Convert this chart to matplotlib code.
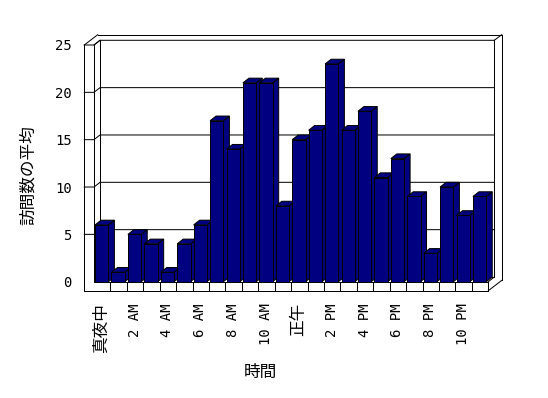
import matplotlib
matplotlib.use("Agg")
import matplotlib.pyplot as plt
from matplotlib.patches import Polygon

# hourly averages
hours = ["真夜中", "1 AM", "2 AM", "3 AM", "4 AM", "5 AM", "6 AM", "7 AM",
         "8 AM", "9 AM", "10 AM", "11 AM", "正午", "1 PM", "2 PM", "3 PM",
         "4 PM", "5 PM", "6 PM", "7 PM", "8 PM", "9 PM", "10 PM", "11 PM"]
visits = [6, 1, 5, 4, 1, 4, 6, 17, 14, 21, 21, 8,
          15, 16, 23, 16, 18, 11, 13, 9, 3, 10, 7, 9]
yticks = [0, 5, 10, 15, 20, 25]

W, H = 548, 398
NAVY = "#000080"
LW = 0.72  # one pixel

fig = plt.figure(figsize=(W / 100, H / 100), dpi=100)

# frame of the fake 3D box, in pixel coordinates
bg = fig.add_axes([0, 0, 1, 1], zorder=0)
bg.set_xlim(0, W)
bg.set_ylim(H, 0)
bg.axis("off")

x_out, x_in, x_r = 84.3, 94.0, 488.3      # front plane
y_top, y_zero, y_floor = 45.0, 281.7, 290.7
d1 = (6.0, -4.7)    # depth of the bars / back wall inner face
d2 = (13.4, -10.3)  # back wall outer face

segs = [
    [(x_out, y_top), (x_out, y_floor)],
    [(x_in, y_top), (x_in, y_zero)],
    [(x_out, y_top), (x_out + d2[0], y_top + d2[1])],
    [(x_in, y_top), (x_in + d1[0], y_top + d1[1])],
    [(x_out + d2[0], y_top + d2[1]), (x_r + d2[0], y_top + d2[1])],
    [(x_in + d1[0], y_top + d1[1]), (x_in + d1[0], y_zero + d1[1])],
    [(x_r + d1[0], y_top + d1[1]), (x_r + d1[0], y_zero + d1[1])],
    [(x_r + d1[0], y_top + d1[1]), (x_r + d2[0], y_top + d2[1])],
    [(x_r + d2[0], y_top + d2[1]), (x_r + d2[0], y_floor + d2[1])],
    [(x_r + d2[0], y_floor + d2[1]), (x_r, y_floor)],
    [(x_out, y_floor), (x_r, y_floor)],
    [(x_r, y_zero), (x_r, y_floor)],
    [(x_r, y_zero), (x_r + d1[0], y_zero + d1[1])],
    [(x_in + d1[0], y_zero + d1[1]), (x_r + d1[0], y_zero + d1[1])],
]
for s in segs:
    bg.plot([p[0] for p in s], [p[1] for p in s], color="black", lw=LW,
            solid_capstyle="projecting")

# data axes = front plane of the plot area
ax = fig.add_axes([x_in / W, (H - y_zero) / H, (x_r - x_in) / W,
                   (y_zero - y_top) / H], zorder=1)
ax.set_facecolor("none")
n = len(visits)
ax.set_xlim(-0.5, n - 0.5)
ax.set_ylim(0, 25)
sx = (x_r - x_in) / n
sy = (y_zero - y_top) / 25
ddx, ddy = d1[0] / sx, -d1[1] / sy
tw = (x_in - x_out) / sx

for v in yticks[1:]:
    ax.plot([-0.5 - tw, -0.5, -0.5 + ddx, n - 0.5 + ddx],
            [v, v, v + ddy, v + ddy], color="black", lw=LW,
            clip_on=False, zorder=1)

xs = [i - 0.03 for i in range(n)]
width = 0.81
bars = ax.bar(xs, visits, width=width, color=NAVY, edgecolor="black",
              linewidth=LW, clip_on=False)
for i, (b, v) in enumerate(zip(bars, visits)):
    x0 = xs[i] - width / 2
    x1 = xs[i] + width / 2
    z = 2 + i * 0.01
    top = Polygon([(x0, v), (x1, v), (x1 + ddx, v + ddy), (x0 + ddx, v + ddy)],
                  closed=True, facecolor=NAVY, edgecolor="black", lw=LW,
                  clip_on=False, zorder=z)
    side = Polygon([(x1, 0), (x1, v), (x1 + ddx, v + ddy), (x1 + ddx, ddy)],
                   closed=True, facecolor=NAVY, edgecolor="black", lw=LW,
                   clip_on=False, zorder=z)
    ax.add_patch(side)
    ax.add_patch(top)
    b.set_zorder(z + 0.005)

for sp in ["left", "right", "top"]:
    ax.spines[sp].set_visible(False)
ax.spines["bottom"].set_linewidth(LW)

ax.set_yticks(yticks)
ax.set_yticklabels([str(t) for t in yticks], family=["DejaVu Sans Mono"],
                   fontsize=10)
ax.tick_params(axis="y", length=0, pad=16)

ax.set_xticks(xs[::2])
ax.set_xticklabels(hours[::2], rotation=90, fontsize=10,
                   family=["DejaVu Sans Mono", "Noto Sans CJK JP"])
for lab in ax.get_xticklabels():
    if not lab.get_text()[0].isascii():
        lab.set_family("Noto Sans CJK JP")
        lab.set_fontsize(12)
ax.tick_params(axis="x", which="major", length=0, pad=15.5)
ax.set_xticks([k + 0.5 for k in range(n - 1)], minor=True)
ax.tick_params(axis="x", which="minor", direction="out",
               length=(y_floor - y_zero) * 0.72, width=LW)

ax.set_ylabel("訪問数の平均", family="Noto Sans CJK JP", fontsize=12,
              va="center")
ax.yaxis.set_label_coords((28 - x_in) / (x_r - x_in),
                          (y_zero - 175) / (y_zero - y_top))
ax.set_xlabel("時間", family="Noto Sans CJK JP", fontsize=12, va="center")
ax.xaxis.set_label_coords((260 - x_in) / (x_r - x_in),
                          (y_zero - 372.5) / (y_zero - y_top))

fig.savefig("out.png", dpi=100)
